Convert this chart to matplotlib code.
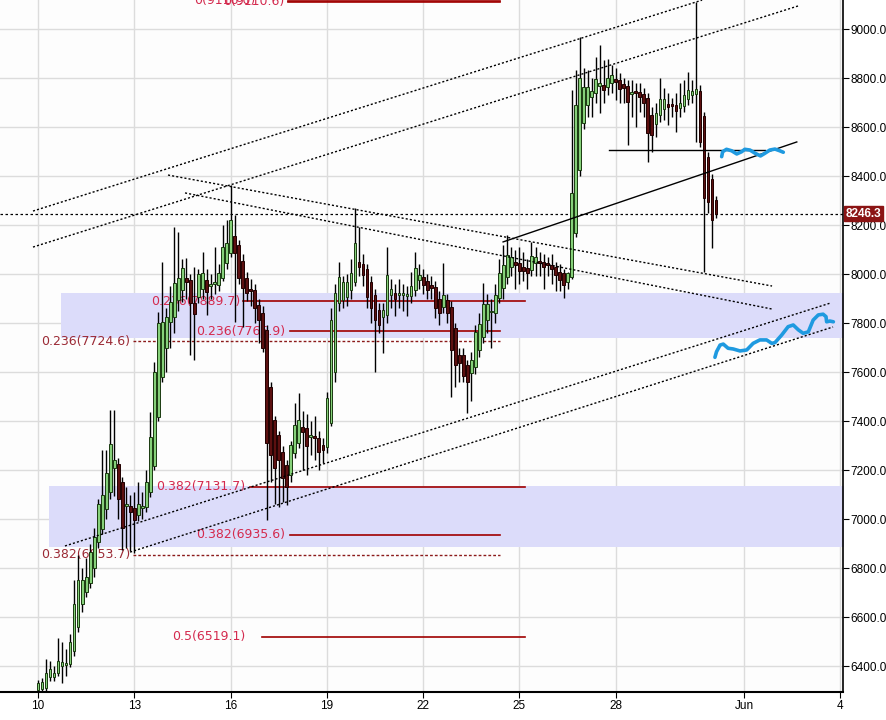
import matplotlib
matplotlib.use("Agg")
import matplotlib.pyplot as plt
import matplotlib.transforms as mtransforms
import numpy as np

plt.rcParams['font.family'] = ['Liberation Sans', 'DejaVu Sans']

# 3-hour candles starting 10 May 00:00 (x unit = days since 10 May)
opens = [6302, 6308, 6310, 6355, 6355, 6372, 6400, 6405, 6408, 6460,
         6560, 6653, 6702, 6740, 6800, 6905, 6960, 7040, 7110, 7210,
         7225, 7150, 7055, 7053, 7045, 7016, 7045, 7050, 7110, 7215,
         7415, 7580, 7700, 7805, 7825, 7895, 7935, 7984, 7976, 7882,
         7906, 7940, 7976, 7950, 7958, 7955, 7985, 8045, 8086, 8155,
         8118, 8053, 7984, 7940, 7935, 7873, 7841, 7770, 7539, 7404,
         7343, 7274, 7220, 7180, 7269, 7310, 7376, 7372, 7333, 7338,
         7331, 7302, 7294, 7392, 7600, 7882, 7894, 7906, 7935, 7967,
         8049, 8041, 8020, 7967, 7914, 7853, 7825, 7833, 7914, 7922,
         7916, 7914, 7912, 7910, 7935, 7976, 7988, 7971, 7955, 7947,
         7898, 7865, 7894, 7865, 7780, 7669, 7669, 7629, 7596, 7620,
         7690, 7743, 7812, 7843, 7841, 7902, 7943, 7988, 8029, 8049,
         8045, 8029, 8025, 8016, 8045, 8053, 8049, 8045, 8037, 8029,
         8008, 8004, 7967, 7988, 8167, 8425, 8616, 8690, 8722, 8739,
         8767, 8771, 8763, 8780, 8796, 8792, 8776, 8767, 8735, 8741,
         8743, 8735, 8718, 8649, 8612, 8649, 8674, 8694, 8690, 8690,
         8678, 8686, 8714, 8731, 8735, 8747, 8645, 8478, 8388, 8302]
highs = [6345, 6350, 6428, 6420, 6400, 6515, 6500, 6470, 6530, 6751,
         6853, 6800, 6840, 6900, 6963, 7080, 7282, 7282, 7445, 7445,
         7250, 7170, 7131, 7100, 7110, 7150, 7110, 7200, 7437, 7640,
         7845, 8049, 7860, 7950, 8192, 8171, 8060, 8065, 8000, 8029,
         8020, 8090, 8020, 8000, 8110, 8040, 8200, 8221, 8363, 8240,
         8140, 8080, 8010, 7980, 7960, 7900, 7870, 7790, 7560, 7420,
         7360, 7300, 7240, 7320, 7473, 7514, 7440, 7430, 7400, 7420,
         7360, 7330, 7520, 7860, 7960, 8050, 7990, 8000, 8060, 8269,
         8192, 8080, 8040, 7990, 7940, 7880, 7880, 8110, 7980, 7960,
         7980, 7960, 7950, 8010, 8090, 8040, 8020, 8000, 7990, 7970,
         7930, 8045, 7920, 7890, 7800, 7700, 7700, 7650, 7680, 7790,
         7840, 7963, 7920, 7900, 7960, 8060, 8120, 8159, 8110, 8100,
         8110, 8090, 8060, 8131, 8110, 8090, 8080, 8070, 8080, 8050,
         8040, 8020, 8010, 8751, 8833, 8967, 8841, 8833, 8800, 8886,
         8935, 8874, 8878, 8853, 8840, 8820, 8800, 8790, 8790, 8780,
         8780, 8760, 8740, 8680, 8700, 8800, 8760, 8740, 8720, 8740,
         8780, 8790, 8825, 8790, 9110, 8770, 8660, 8500, 8410, 8320]
lows = [6295, 6300, 6300, 6340, 6340, 6360, 6330, 6360, 6395, 6440,
        6540, 6620, 6680, 6720, 6763, 6880, 6940, 7000, 7080, 7095,
        7000, 6874, 6880, 6870, 6861, 6990, 7000, 7030, 7090, 7200,
        7400, 7560, 7600, 7700, 7760, 7850, 7886, 7900, 7669, 7649,
        7880, 7900, 7833, 7900, 7920, 7930, 7970, 8020, 8070, 7804,
        7960, 7784, 7890, 7870, 7800, 7718, 7680, 6996, 7150, 7060,
        7049, 7069, 7057, 7150, 7250, 7290, 7200, 7180, 7260, 7240,
        7200, 7230, 7270, 7380, 7560, 7850, 7860, 7870, 7900, 7950,
        7990, 7950, 7860, 7800, 7600, 7759, 7678, 7800, 7860, 7830,
        7860, 7850, 7830, 7880, 7910, 7940, 7920, 7900, 7900, 7820,
        7792, 7840, 7800, 7498, 7539, 7560, 7559, 7433, 7480, 7590,
        7660, 7720, 7760, 7700, 7800, 7880, 7900, 7960, 7990, 7940,
        7960, 7970, 7940, 7990, 7990, 7990, 7940, 7990, 7960, 7930,
        7930, 7902, 7940, 7980, 8150, 8400, 8590, 8640, 8640, 8700,
        8657, 8700, 8730, 8740, 8710, 8700, 8698, 8527, 8640, 8600,
        8660, 8640, 8457, 8498, 8560, 8620, 8630, 8610, 8640, 8580,
        8640, 8660, 8690, 8700, 8539, 8520, 8008, 8250, 8106, 8229]
closes = [6330, 6335, 6370, 6388, 6372, 6420, 6415, 6412, 6498, 6653,
          6750, 6751, 6763, 6865, 6925, 7060, 7100, 7188, 7305, 7240,
          7080, 6965, 7060, 7030, 6996, 7061, 7055, 7150, 7335, 7600,
          7800, 7805, 7824, 7885, 7963, 7984, 8025, 7968, 7882, 7835,
          8000, 8004, 7927, 7958, 7965, 8004, 8110, 8127, 8220, 8086,
          7984, 7943, 7923, 7930, 7861, 7812, 7698, 7310, 7261, 7208,
          7241, 7167, 7131, 7302, 7384, 7404, 7355, 7298, 7338, 7331,
          7273, 7282, 7494, 7812, 7922, 7988, 7967, 7967, 8004, 8127,
          8029, 7996, 7906, 7861, 7812, 7792, 7853, 7996, 7939, 7898,
          7920, 7916, 7914, 7951, 8025, 7996, 7955, 7935, 7943, 7861,
          7841, 7914, 7841, 7690, 7629, 7637, 7584, 7559, 7649, 7763,
          7796, 7878, 7878, 7847, 7914, 8004, 8037, 8078, 8069, 8037,
          8012, 8012, 8004, 8074, 8069, 8045, 8029, 8037, 8020, 7996,
          7976, 7955, 8004, 8331, 8690, 8800, 8763, 8763, 8747, 8796,
          8780, 8751, 8800, 8812, 8784, 8755, 8759, 8702, 8741, 8737,
          8722, 8698, 8575, 8567, 8657, 8714, 8714, 8682, 8686, 8665,
          8698, 8731, 8751, 8747, 8755, 8539, 8310, 8294, 8220, 8246.3]
last_price = 8246.3

# date ticks
tick_days = [0, 3, 6, 9, 12, 15, 18, 22, 25]
tick_labels = ['10', '13', '16', '19', '22', '25', '28', 'Jun', '4']

# fibonacci levels: (label, price, x_text_end, x_line_start, x_line_end, bright?)
fib_levels = [
    ('0(9116.0)', 9116.0, 6.76, 7.79, 14.39, True),
    ('0(9110.6)', 9110.6, 7.69, 7.79, 14.39, True),
    ('0.236(7889.7)', 7889.7, 6.29, 6.39, 15.17, True),
    ('0.236(7765.9)', 7765.9, 7.69, 7.85, 14.39, True),
    ('0.236(7724.6)', 7724.6, 2.87, 2.96, 14.39, False),
    ('0.382(7131.7)', 7131.7, 6.45, 6.60, 15.17, True),
    ('0.382(6935.6)', 6935.6, 7.69, 7.85, 14.39, True),
    ('0.382(6853.7)', 6853.7, 2.87, 2.96, 14.39, False),
    ('0.5(6519.1)', 6519.1, 6.45, 6.98, 15.17, True),
]

# shaded zones: (x_start, price_low, price_high)
zones = [(0.717, 7739, 7923), (0.343, 6886, 7135)]

# hand-drawn trend lines: ((x1, p1), (x2, p2), style)
trend_lines = [
    ((-0.156, 8257), (20.69, 9118), ':'),
    ((-0.156, 8110), (23.68, 9094), ':'),
    ((4.05, 8404), (22.87, 7951), ':'),
    ((4.58, 8331), (22.87, 7857), ':'),
    ((0.84, 6890), (24.70, 7882), ':'),
    ((2.87, 6865), (24.77, 7784), ':'),
    ((14.49, 8131), (23.64, 8539), '-'),
    ((17.79, 8506), (22.65, 8506), '-'),
]

# freehand blue scribbles
wave1_x = [21.30, 21.33, 21.45, 21.61, 21.77, 21.92, 22.02, 22.18, 22.34, 22.51,
           22.65, 22.80, 22.96, 23.11, 23.22]
wave1_y = [8479, 8499, 8509, 8503, 8490, 8499, 8509, 8506, 8493, 8482,
           8493, 8506, 8510, 8503, 8497]
wave2_x = [21.09, 21.14, 21.25, 21.35, 21.50, 21.66, 21.87, 22.08, 22.28, 22.49,
           22.70, 22.86, 22.96, 23.17, 23.37, 23.53, 23.69, 23.84, 24.00, 24.15,
           24.31, 24.46, 24.55, 24.57, 24.67, 24.78]
wave2_y = [7660, 7683, 7710, 7714, 7697, 7694, 7686, 7690, 7717, 7731,
           7731, 7717, 7720, 7751, 7785, 7792, 7772, 7758, 7764, 7812,
           7833, 7836, 7826, 7805, 7808, 7805]

fig = plt.figure(figsize=(8.86, 7.2), dpi=100)
ax = fig.add_axes([0, 28/720, 843/886, 692/720])
ax.set_xlim(-1.184, 25.08)
ax.set_ylim(6294, 9118.4)

# zones
for x0, lo, hi in zones:
    ax.fill_between([x0, 26], lo, hi, color='#dcdcfa', zorder=1, lw=0)

# last price line
ax.axhline(last_price, color='black', ls=(0, (2, 2)), lw=0.9, zorder=2)

# fib levels
for lab, price, xt, xa, xb, bright in fib_levels:
    if bright:
        ax.plot([xa, xb], [price, price], color='#a00000', lw=1.2, zorder=2)
        tc = '#d42a4e'
    else:
        ax.plot([xa, xb], [price, price], color='#8b1a1a', lw=1, ls=(0, (2, 1.5)), zorder=2)
        tc = '#9b2a35'
    ax.text(xt, price, lab, color=tc, fontsize=9, ha='right', va='center',
            family='DejaVu Sans', zorder=2)

# candles
x = np.arange(len(opens)) * 0.125
o = np.array(opens); h = np.array(highs); l = np.array(lows); c = np.array(closes)
up = c >= o
ax.vlines(x, l, h, color='black', lw=1, zorder=3)
body_lo = np.minimum(o, c)
body_h = np.maximum(np.abs(c - o), 8)
ax.bar(x[up], body_h[up], bottom=body_lo[up], width=0.085, color='#86d17a',
       edgecolor='#1a3a10', lw=0.7, zorder=4)
ax.bar(x[~up], body_h[~up], bottom=body_lo[~up], width=0.085, color='#5c1010',
       edgecolor='#200000', lw=0.7, zorder=4)

# trend lines
for (x1, p1), (x2, p2), st in trend_lines:
    if st == ':':
        ax.plot([x1, x2], [p1, p2], color='black', lw=1, ls=(0, (1.5, 1.5)), zorder=5)
    else:
        ax.plot([x1, x2], [p1, p2], color='black', lw=1, zorder=5)

ax.plot(wave1_x, wave1_y, color='#1f9ae0', lw=2.6, zorder=6, solid_capstyle='round')
ax.plot(wave2_x, wave2_y, color='#1f9ae0', lw=2.6, zorder=6, solid_capstyle='round')

# axes styling
ax.yaxis.tick_right()
ax.set_yticks(range(6400, 9001, 200))
ax.set_yticklabels([f'{v:.1f}' for v in range(6400, 9001, 200)])
ax.set_xticks(tick_days)
ax.set_xticklabels(tick_labels)
ax.tick_params(axis='both', labelsize=8.5, length=4, color='black', pad=1.5)
ax.grid(True, color='#dcdcdc', lw=1, zorder=0)
ax.set_axisbelow(True)
for s in ('left', 'top'):
    ax.spines[s].set_visible(False)
ax.spines['right'].set_linewidth(1.2)
ax.spines['bottom'].set_linewidth(1.5)
ax.set_facecolor('#fdfdfd')

trans = mtransforms.blended_transform_factory(ax.transAxes, ax.transData)
ax.text(1.003, last_price, f'{last_price:.1f}', transform=trans, ha='left', va='center',
        color='white', fontsize=8.5, fontweight='bold', clip_on=False, zorder=10,
        bbox=dict(boxstyle='square,pad=0.15', fc='#8b1414', ec='#8b1414'))

fig.savefig('out.png', dpi=100)
